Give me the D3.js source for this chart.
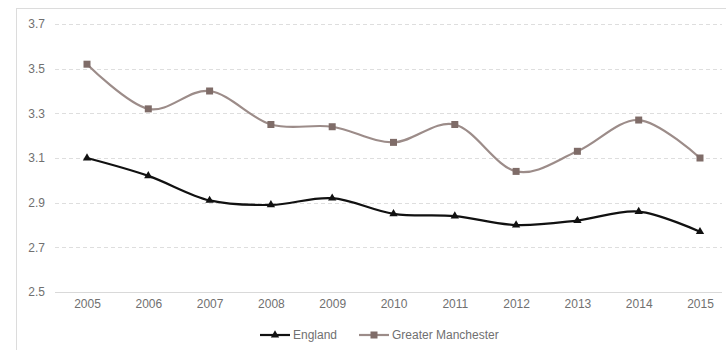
<!DOCTYPE html>
<html>
<head>
<meta charset="utf-8">
<script src="https://cdn.jsdelivr.net/npm/d3@7"></script>
<style>
  html, body { margin: 0; padding: 0; background: #ffffff; }
  svg { display: block; }
  text { font-family: "Liberation Sans", Arial, sans-serif; }
</style>
</head>
<body>
<svg id="chart" width="726" height="350"></svg>
<script>
const years = [2005, 2006, 2007, 2008, 2009, 2010, 2011, 2012, 2013, 2014, 2015];
const england = [3.10, 3.02, 2.91, 2.89, 2.92, 2.85, 2.84, 2.80, 2.82, 2.86, 2.77];
const greaterManchester = [3.52, 3.32, 3.40, 3.25, 3.24, 3.17, 3.25, 3.04, 3.13, 3.27, 3.10];
const yTicks = [2.5, 2.7, 2.9, 3.1, 3.3, 3.5, 3.7];
const seriesNames = ["England", "Greater Manchester"];

const svg = d3.select("#chart");
const textColor = "#707070";
const fontSize = "12px";

// outer frame
svg.append("rect")
  .attr("x", 16.5).attr("y", 8.5)
  .attr("width", 720).attr("height", 350)
  .attr("fill", "none").attr("stroke", "#dcdcdc").attr("stroke-width", 1);

const x = d3.scalePoint().domain(years).range([87, 700]);
const y = d3.scaleLinear().domain([2.5, 3.7]).range([292, 24]);

// gridlines
const grid = svg.append("g");
grid.selectAll("line")
  .data(yTicks)
  .join("line")
  .attr("x1", 55).attr("x2", 722)
  .attr("y1", d => Math.round(y(d)) + 0.5)
  .attr("y2", d => Math.round(y(d)) + 0.5)
  .attr("stroke", d => d === 2.5 ? "#d9d9d9" : "#dedede")
  .attr("stroke-width", 1)
  .attr("stroke-dasharray", d => d === 2.5 ? null : "4,3");

// y axis labels
const yAxis = d3.axisLeft(y).tickValues(yTicks).tickFormat(d3.format(".1f")).tickSize(0).tickPadding(0);
const gy = svg.append("g").attr("transform", "translate(45,0)").call(yAxis);
gy.select(".domain").remove();
gy.selectAll("text")
  .attr("fill", textColor).attr("font-size", fontSize)
  .attr("font-family", "Liberation Sans, Arial, sans-serif");

// x axis labels
const xAxis = d3.axisBottom(x).tickSize(0).tickPadding(0).tickFormat(d3.format("d"));
const gx = svg.append("g").attr("transform", "translate(0,299)").call(xAxis);
gx.select(".domain").remove();
gx.selectAll("text")
  .attr("fill", textColor).attr("font-size", fontSize)
  .attr("font-family", "Liberation Sans, Arial, sans-serif");

const line = d3.line()
  .x((d, i) => x(years[i]))
  .y(d => y(d))
  .curve(d3.curveCatmullRom.alpha(0));

const gmLine = "#9c8c89";
const gmMark = "#7f6c68";
const enColor = "#111111";

// Greater Manchester
svg.append("path").datum(greaterManchester)
  .attr("d", line).attr("fill", "none")
  .attr("stroke", gmLine).attr("stroke-width", 2.2);
svg.append("g").selectAll("rect")
  .data(greaterManchester)
  .join("rect")
  .attr("x", (d, i) => x(years[i]) - 3.5)
  .attr("y", d => y(d) - 3.5)
  .attr("width", 7).attr("height", 7)
  .attr("fill", gmMark);

// England
svg.append("path").datum(england)
  .attr("d", line).attr("fill", "none")
  .attr("stroke", enColor).attr("stroke-width", 2.2);
const tri = d3.symbol().type(d3.symbolTriangle).size(30);
svg.append("g").selectAll("path")
  .data(england)
  .join("path")
  .attr("transform", (d, i) => `translate(${x(years[i])},${y(d)})`)
  .attr("d", tri)
  .attr("fill", enColor);

// legend
const legend = svg.append("g").attr("transform", "translate(0,335)");
// England item
legend.append("line").attr("x1", 260).attr("x2", 290).attr("y1", 0).attr("y2", 0)
  .attr("stroke", enColor).attr("stroke-width", 2.2);
legend.append("path").attr("transform", "translate(275,0)").attr("d", tri).attr("fill", enColor);
legend.append("text").attr("x", 293).attr("y", 4).text(seriesNames[0])
  .attr("font-size", fontSize).attr("fill", textColor);
// GM item
legend.append("line").attr("x1", 359).attr("x2", 389).attr("y1", 0).attr("y2", 0)
  .attr("stroke", gmLine).attr("stroke-width", 2.2);
legend.append("rect").attr("x", 370.5).attr("y", -3.5).attr("width", 7).attr("height", 7).attr("fill", gmMark);
legend.append("text").attr("x", 392).attr("y", 4).text(seriesNames[1])
  .attr("font-size", fontSize).attr("fill", textColor);
</script>
</body>
</html>
